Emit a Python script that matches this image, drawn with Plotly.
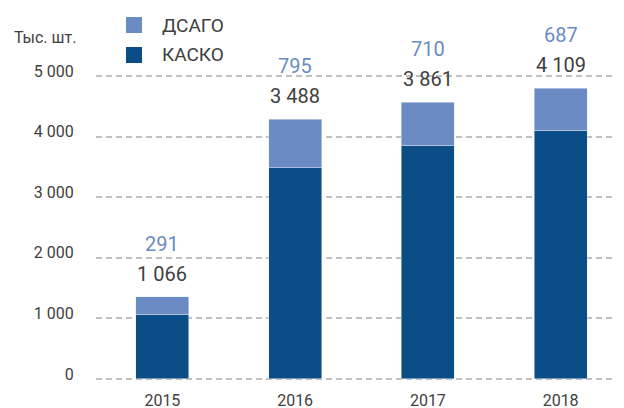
import plotly.graph_objects as go

years = ["2015", "2016", "2017", "2018"]
kasko = [1066, 3488, 3861, 4109]
dsago = [291, 795, 710, 687]
kasko_labels = ["1 066", "3 488", "3 861", "4 109"]
dsago_labels = ["291", "795", "710", "687"]
tick_vals = [0, 1000, 2000, 3000, 4000, 5000]
tick_text = ["0", "1 000", "2 000", "3 000", "4 000", "5 000"]

DARK = "#0b4d87"
LIGHT = "#6a8bc4"
TXT = "#404040"
FONT = "Roboto"

# page offset from default body margin
OFF = 8
W, H = 624, 408
# plot area in page pixels (range padded by 100 units = ~6px)
L, R, T, B = 96, 627, 70, 385

xpos = list(range(len(years)))


def px(x):
    return (x - L) / (R - L)


def py(y):
    return (B - y) / (B - T)


fig = go.Figure()
fig.add_trace(go.Bar(x=xpos, y=kasko, name="КАСКО", marker_color=DARK, width=0.4,
                     showlegend=False))
fig.add_trace(go.Bar(x=xpos, y=dsago, name="ДСАГО", marker_color=LIGHT, width=0.4,
                     showlegend=False))

for xp, k, d, kl, dl in zip(xpos, kasko, dsago, kasko_labels, dsago_labels):
    tot = k + d
    fig.add_annotation(x=xp, y=tot, text=kl, showarrow=False, yanchor="middle",
                       yshift=23, font=dict(family=FONT, size=20, color=TXT))
    fig.add_annotation(x=xp, y=tot, text=dl, showarrow=False, yanchor="middle",
                       yshift=53, font=dict(family=FONT, size=20, color=LIGHT))

fig.add_annotation(xref="paper", yref="paper", x=px(78), y=py(38), xanchor="right",
                   yanchor="middle", text="Тыс. шт.", showarrow=False,
                   font=dict(family=FONT, size=16, color=TXT))

# manual legend
legend_items = [("ДСАГО", LIGHT, 25), ("КАСКО", DARK, 55)]
for name, col, yc in legend_items:
    fig.add_shape(type="rect", xref="paper", yref="paper",
                  x0=px(126), x1=px(142), y0=py(yc + 8), y1=py(yc - 8),
                  fillcolor=col, line_width=0)
    fig.add_annotation(xref="paper", yref="paper", x=px(160), y=py(yc), xanchor="left",
                       yanchor="middle", text=name, showarrow=False,
                       font=dict(family=FONT, size=19, color=TXT))

fig.update_layout(
    width=W, height=H,
    margin=dict(l=L - OFF, r=W - R + OFF, t=T - OFF, b=H - B + OFF, autoexpand=False),
    barmode="stack",
    plot_bgcolor="white", paper_bgcolor="white",
    showlegend=False,
    font=dict(family=FONT, color=TXT),
    xaxis=dict(range=[-0.5, 3.5], tickvals=xpos, ticktext=years, showgrid=False,
               showline=False, zeroline=False, ticks="outside", ticklen=1,
               tickcolor="rgba(0,0,0,0)", automargin=False,
               tickfont=dict(family=FONT, size=16, color=TXT)),
    yaxis=dict(range=[-100, 5100], tickvals=tick_vals, ticktext=tick_text,
               showgrid=True, gridcolor="#c0c0c0", gridwidth=2, griddash="6px,4px",
               zeroline=False, showline=False, ticks="outside", ticklen=18,
               tickcolor="rgba(0,0,0,0)", automargin=False, ticklabelshift=-5,
               tickfont=dict(family=FONT, size=16, color=TXT)),
)

fig.write_html("out.html")
